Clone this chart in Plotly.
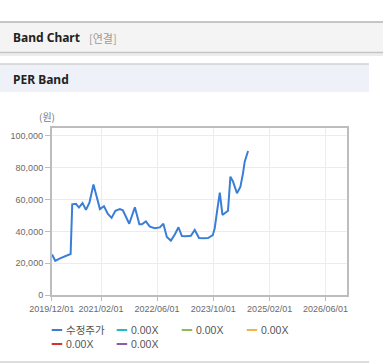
import plotly.graph_objects as go

W, H = 383, 364

# ---- data ----
price_dates = [
    "2019-12-04", "2020-01-01", "2020-02-11", "2020-03-25", "2020-05-13", "2020-05-27",
    "2020-06-28", "2020-07-24", "2020-08-24", "2020-09-23", "2020-10-23", "2020-11-27",
    "2020-12-18", "2021-01-22", "2021-02-26", "2021-04-01", "2021-05-03", "2021-06-05",
    "2021-07-14", "2021-08-09", "2021-10-03", "2021-11-21", "2021-12-30", "2022-01-21",
    "2022-02-24", "2022-03-31", "2022-05-13", "2022-06-25", "2022-07-26", "2022-08-25",
    "2022-09-29", "2022-11-02", "2022-12-04", "2023-01-02", "2023-02-05", "2023-03-21",
    "2023-04-24", "2023-05-31", "2023-07-11", "2023-08-17", "2023-09-27", "2023-10-14",
    "2023-11-03", "2023-11-27", "2023-12-20", "2024-01-09", "2024-02-06", "2024-02-27",
    "2024-03-21", "2024-04-24", "2024-05-24", "2024-06-15", "2024-06-30", "2024-07-29",
]
price_values = [
    25500, 21500, 23000, 24500, 25800, 57000,
    57300, 55000, 57800, 53500, 58000, 69500,
    63000, 54000, 55800, 51000, 48500, 53000,
    54000, 53300, 44800, 55200, 44500, 44500,
    46300, 43000, 42000, 42500, 44800, 36500,
    34200, 38000, 42600, 37100, 37000, 37200,
    40900, 35800, 35700, 35800, 37600, 42000,
    52400, 64300, 50300, 51400, 53000, 74400,
    71300, 64000, 68100, 76500, 83800, 90500,
]
series_names = ["수정주가", "0.00X", "0.00X", "0.00X", "0.00X", "0.00X"]
series_colors = ["#3a7ed6", "#26b7c9", "#8cb95a", "#f2b545", "#d2342d", "#8f5aa8"]
x_ticks = ["2019-12-01", "2021-02-01", "2022-06-01", "2023-10-01", "2025-02-01", "2026-06-01"]
x_tick_text = ["2019/12/01", "2021/02/01", "2022/06/01", "2023/10/01", "2025/02/01", "2026/06/01"]
y_ticks = [0, 20000, 40000, 60000, 80000, 100000]
y_tick_text = ["0", "20,000", "40,000", "60,000", "80,000", "100,000"]

def px_x(x):
    return x / W

def px_y(y):
    return 1 - y / H

fig = go.Figure()
fig.add_trace(go.Scatter(
    x=price_dates, y=price_values, mode="lines", name=series_names[0],
    line=dict(color=series_colors[0], width=2), showlegend=False,
))
for nm, col in zip(series_names[1:], series_colors[1:]):
    fig.add_trace(go.Scatter(x=[], y=[], mode="lines", name=nm,
                             line=dict(color=col, width=2), showlegend=False))

axis_font = dict(family="Liberation Sans, Arial, sans-serif", size=9, color="#6a6a6a")

fig.update_layout(
    width=W, height=H,
    margin=dict(l=0, r=0, t=0, b=0, pad=0, autoexpand=False),
    paper_bgcolor="white", plot_bgcolor="white",
    xaxis=dict(
        domain=[px_x(51.7), px_x(346.7)],
        type="date", automargin=False,
        range=["2019-12-01", "2026-12-01"],
        tickvals=x_ticks, ticktext=x_tick_text,
        showgrid=True, gridcolor="#ececec", gridwidth=1,
        showline=True, linecolor="#bdbdbd", linewidth=1.5, mirror=True,
        ticks="outside", ticklen=4, tickcolor="#bdbdbd",
        tickfont=axis_font, zeroline=False,
    ),
    yaxis=dict(
        domain=[px_y(295), px_y(128.3)],
        automargin=False,
        range=[0, 104800],
        tickvals=y_ticks, ticktext=y_tick_text,
        showgrid=True, gridcolor="#ececec", gridwidth=1,
        showline=True, linecolor="#bdbdbd", linewidth=1.5, mirror=True,
        ticks="outside", ticklen=5, tickcolor="#bdbdbd",
        tickfont=axis_font, zeroline=False,
    ),
    showlegend=False,
)

shapes = []
# header bar "Band Chart"
shapes.append(dict(type="rect", xref="paper", yref="paper", x0=0, x1=1,
                   y0=px_y(52), y1=px_y(22), fillcolor="#f4f4f4", line=dict(width=0), layer="below"))
shapes.append(dict(type="line", xref="paper", yref="paper", x0=0, x1=1,
                   y0=px_y(22), y1=px_y(22), line=dict(color="#b4b4b4", width=1.5)))
shapes.append(dict(type="line", xref="paper", yref="paper", x0=0, x1=1,
                   y0=px_y(52.5), y1=px_y(52.5), line=dict(color="#c4c4c4", width=1.5)))
shapes.append(dict(type="rect", xref="paper", yref="paper", x0=0, x1=1,
                   y0=px_y(56), y1=px_y(53.3), fillcolor="#ededed", line=dict(width=0), layer="below"))
# sub header "PER Band"
shapes.append(dict(type="rect", xref="paper", yref="paper", x0=0, x1=px_x(369),
                   y0=px_y(92), y1=px_y(64), fillcolor="#eef2f8", line=dict(width=0), layer="below"))
shapes.append(dict(type="line", xref="paper", yref="paper", x0=0, x1=px_x(369),
                   y0=px_y(64), y1=px_y(64), line=dict(color="#d2d2d2", width=1.5)))
# bottom separator
shapes.append(dict(type="line", xref="paper", yref="paper", x0=0, x1=px_x(369),
                   y0=px_y(362), y1=px_y(362), line=dict(color="#d2d2d2", width=1.5)))

annotations = [
    dict(text="<b>Band Chart</b>", x=px_x(11), y=px_y(38), xref="paper", yref="paper",
         xanchor="left", yanchor="middle", showarrow=False,
         font=dict(family="Noto Sans, sans-serif", size=12, color="#222")),
    dict(text="[연결]", x=px_x(87), y=px_y(38.5), xref="paper", yref="paper",
         xanchor="left", yanchor="middle", showarrow=False,
         font=dict(family="Noto Sans CJK KR, sans-serif", size=11, color="#9a9a9a")),
    dict(text="<b>PER Band</b>", x=px_x(11), y=px_y(79), xref="paper", yref="paper",
         xanchor="left", yanchor="middle", showarrow=False,
         font=dict(family="Noto Sans, sans-serif", size=12, color="#222")),
    dict(text="(원)", x=px_x(47), y=px_y(117), xref="paper", yref="paper",
         xanchor="center", yanchor="middle", showarrow=False,
         font=dict(family="Noto Sans CJK KR, sans-serif", size=10, color="#777")),
]

# manual legend
legend_pos = [(51.7, 330), (116.7, 330), (181.7, 330), (246.7, 330), (51.7, 344), (116.7, 344)]
for (lx, ly), nm, col in zip(legend_pos, series_names, series_colors):
    shapes.append(dict(type="line", xref="paper", yref="paper",
                       x0=px_x(lx), x1=px_x(lx + 10.5), y0=px_y(ly), y1=px_y(ly),
                       line=dict(color=col, width=2)))
    annotations.append(dict(text=nm, x=px_x(lx + 12.5), y=px_y(ly), xref="paper", yref="paper",
                            xanchor="left", yanchor="middle", showarrow=False,
                            font=dict(family="Liberation Sans, Noto Sans CJK KR, sans-serif",
                                      size=10.5, color="#555")))

fig.update_layout(shapes=shapes, annotations=annotations)
fig.write_html("out.html", config={"displayModeBar": False},
               post_script="document.body.style.margin='0px';")
